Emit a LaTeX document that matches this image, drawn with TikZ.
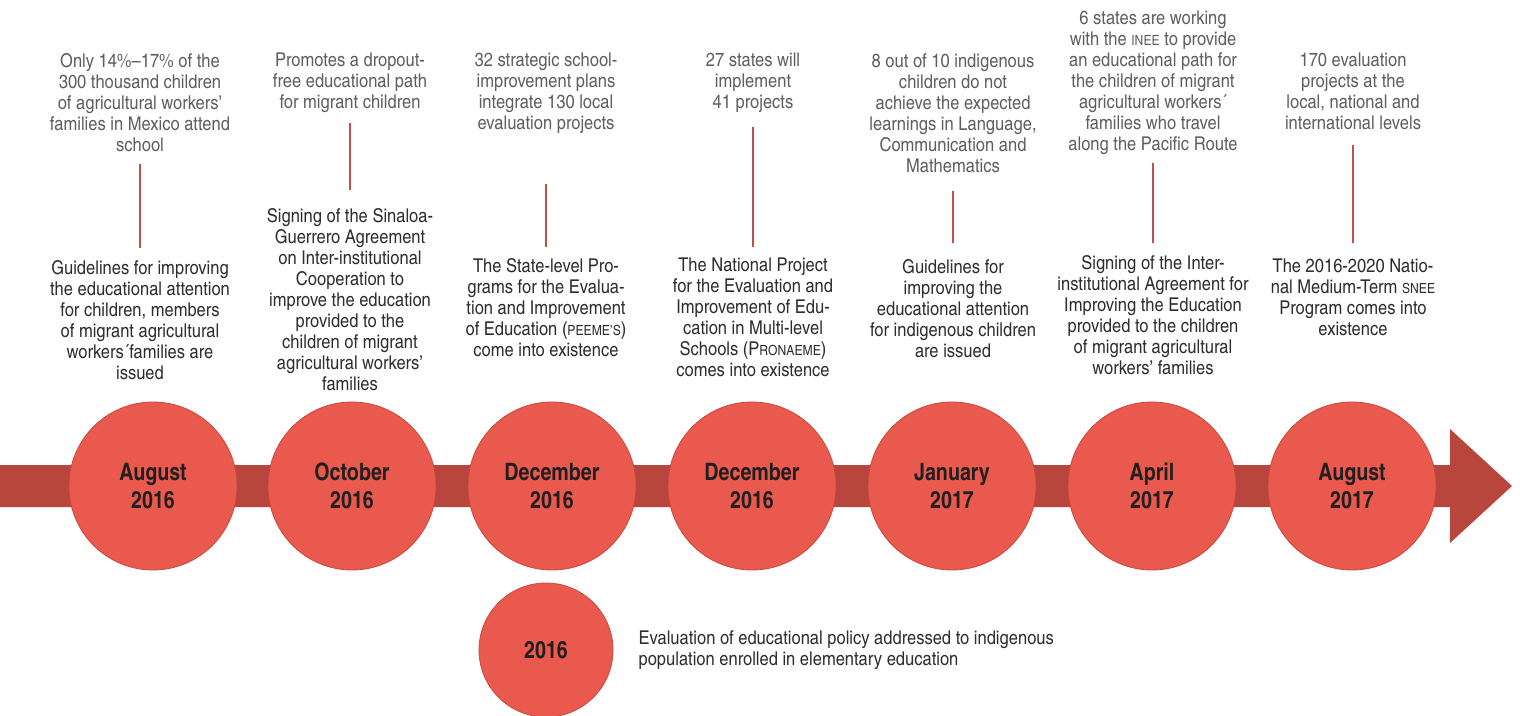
\documentclass[tikz,border=0pt]{standalone}
\usepackage{fontspec}
\setmainfont{texgyreheroscn}[Extension=.otf, UprightFont=*-regular, BoldFont=*-bold,
  UprightFeatures={FakeStretch=1.06}]
\usetikzlibrary{positioning}

\definecolor{bandred}{HTML}{B9463C}
\definecolor{discred}{HTML}{EA594D}
\definecolor{discedge}{HTML}{C9483D}
\definecolor{stemred}{HTML}{C0504D}
\definecolor{notegrey}{HTML}{5F5F5F}
\definecolor{eventgrey}{HTML}{2E2E2E}
\definecolor{datetext}{HTML}{231F20}

\newcommand{\smallcap}[1]{{\fontsize{14}{21}\selectfont #1}}

\tikzset{
  note/.style={align=center, text=notegrey, inner sep=0pt, anchor=north,
    font=\fontsize{19}{21}\selectfont},
  event/.style={align=center, text=eventgrey, inner sep=0pt, anchor=north,
    font=\fontsize{19}{21}\selectfont},
  datedisc/.style={circle, fill=discred, draw=discedge, line width=0.8pt,
    minimum size=168pt, inner sep=0pt, align=center, text=datetext,
    font=\fontsize{24}{28}\selectfont\bfseries},
  stem/.style={draw=stemred, line width=1.4pt}
}

\begin{document}
\begin{tikzpicture}[x=1pt, y=-1pt]
  \useasboundingbox (0,0) rectangle (1520,715);

  % timeline band with arrow head
  \fill[bandred] (0,465) -- (1450,465) -- (1450,429) -- (1512,486)
    -- (1450,543) -- (1450,507) -- (0,507) -- cycle;

  % dates
  \foreach \i/\x/\m/\y in {1/153/August/2016, 2/352/October/2016,
      3/552/December/2016, 4/752/December/2016, 5/952/January/2017,
      6/1152/April/2017, 7/1352/August/2017}
    \node[datedisc] (d\i) at (\x,486) {\m\\\y};

  % figures above the stems
  \node[note] (t1) at (140,53) {Only 14\%–17\% of the\\300 thousand children\\of agricultural workers’\\families in Mexico attend\\school};
  \node[note] (t2) at (350,53) {Promotes a dropout-\\free educational path\\for migrant children};
  \node[note] (t3) at (546,53) {32 strategic school-\\improvement plans\\integrate 130 local\\evaluation projects};
  \node[note] (t4) at (753,53) {27 states will\\implement\\41 projects};
  \node[note] (t5) at (953,53) {8 out of 10 indigenous\\children do not\\achieve the expected\\learnings in Language,\\Communication and\\Mathematics};
  \node[note] (t6) at (1153,11) {6 states are working\\with the \smallcap{INEE} to provide\\an educational path for\\the children of migrant\\agricultural workers´\\families who travel\\along the Pacific Route};
  \node[note] (t7) at (1353,53) {170 evaluation\\projects at the\\local, national and\\international levels};

  % events
  \node[event] (b1) at (140,260) {Guidelines for improving\\the educational attention\\for children, members\\of migrant agricultural\\workers´families are\\issued};
  \node[event] (b2) at (350,208) {Signing of the Sinaloa-\\Guerrero Agreement\\on Inter-institutional\\Cooperation to\\improve the education\\provided to the\\children of migrant\\agricultural workers’\\families};
  \node[event] (b3) at (546,258) {The State-level Pro-\\grams for the Evalua-\\tion and Improvement\\of Education (\smallcap{PEEME'S})\\come into existence};
  \node[event] (b4) at (753,258) {The National Project\\for the Evaluation and\\Improvement of Edu-\\cation in Multi-level\\Schools (P\smallcap{RONAEME})\\comes into existence};
  \node[event] (b5) at (953,259) {Guidelines for\\improving the\\educational attention\\for indigenous children\\are issued};
  \node[event] (b6) at (1153,255) {Signing of the Inter-\\institutional Agreement for\\Improving the Education\\provided to the children\\of migrant agricultural\\workers’ families};
  \node[event] (b7) at (1353,259) {The 2016-2020 Natio-\\nal Medium-Term \smallcap{SNEE}\\Program comes into\\existence};

  % stems
  \foreach \i/\sa/\sb in {1/12/12, 2/10/18, 3/50/11, 4/14/11, 5/18/16, 6/8/12, 7/15/16}
    \draw[stem, shorten <=\sa pt, shorten >=\sb pt] (t\i) -- (b\i);

  % separate evaluation
  \node[datedisc, minimum size=134pt] (yr) at (546,650) {2016};
  \node[event, align=left, anchor=west, right=25pt of yr] (ev) {Evaluation of educational policy addressed to indigenous\\population enrolled in elementary education};
\end{tikzpicture}
\end{document}
